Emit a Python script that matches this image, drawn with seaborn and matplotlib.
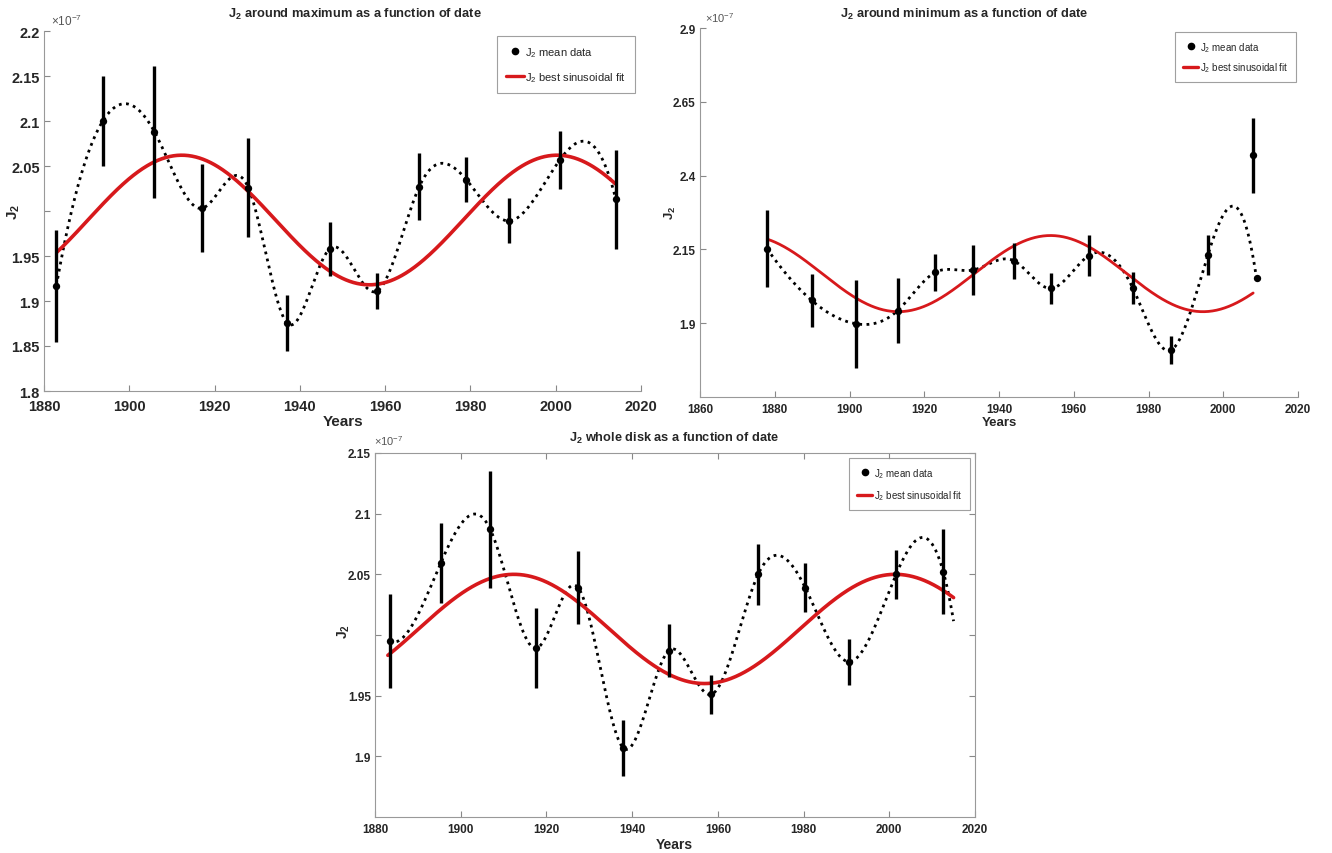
import numpy as np
import pandas as pd
import matplotlib
matplotlib.use("Agg")
import matplotlib.pyplot as plt
import seaborn as sns
from matplotlib.lines import Line2D

# ---------------- data (values in units of 1e-7) ----------------
max_years = [1882.9, 1893.8, 1905.9, 1917.0, 1927.9, 1936.9, 1947.0, 1958.1, 1968.0, 1979.0, 1989.1, 2001.0, 2014.1]
max_j2 = [1.917, 2.100, 2.088, 2.003, 2.026, 1.876, 1.958, 1.911, 2.027, 2.035, 1.989, 2.057, 2.013]
max_err = [0.062, 0.050, 0.073, 0.049, 0.055, 0.031, 0.030, 0.020, 0.037, 0.025, 0.025, 0.032, 0.055]

min_years = [1877.9, 1889.9, 1901.8, 1912.9, 1922.9, 1933.0, 1943.9, 1953.8, 1964.0, 1975.8, 1986.0, 1995.9, 2007.9, 2008.9]
min_j2 = [2.153, 1.977, 1.898, 1.943, 2.072, 2.080, 2.112, 2.018, 2.129, 2.019, 1.809, 2.132, 2.469, 2.052]
min_err = [0.130, 0.090, 0.150, 0.110, 0.062, 0.084, 0.061, 0.053, 0.070, 0.053, 0.047, 0.068, 0.127, np.nan]
min_on_curve = [1, 1, 1, 1, 1, 1, 1, 1, 1, 1, 1, 1, 0, 1]

whole_years = [1883.4, 1895.3, 1906.9, 1917.5, 1927.4, 1937.9, 1948.5, 1958.4, 1969.4, 1980.4, 1990.6, 2001.6, 2012.6]
whole_j2 = [1.995, 2.059, 2.087, 1.989, 2.039, 1.907, 1.987, 1.951, 2.050, 2.039, 1.978, 2.050, 2.052]
whole_err = [0.039, 0.033, 0.048, 0.033, 0.030, 0.023, 0.022, 0.016, 0.025, 0.020, 0.019, 0.020, 0.035]

# best sinusoidal fit parameters: offset, amplitude, period, year of peak, start, end
max_fit = dict(offset=1.990, amp=0.072, period=88.0, peak=1912.3, start=1883.0, end=2014.0)
min_fit = dict(offset=2.068, amp=0.129, period=81.5, peak=1953.8, start=1878.0, end=2008.0)
whole_fit = dict(offset=2.005, amp=0.045, period=89.0, peak=1912.4, start=1883.0, end=2015.0)

x_ticks_a = [1880, 1900, 1920, 1940, 1960, 1980, 2000, 2020]
x_ticks_b = [1860, 1880, 1900, 1920, 1940, 1960, 1980, 2000, 2020]
max_yticks = [1.8, 1.85, 1.9, 1.95, 2.0, 2.05, 2.1, 2.15, 2.2]
max_ylabels = ["1.8", "1.85", "1.9", "1.95", "", "2.05", "2.1", "2.15", "2.2"]
min_yticks = [1.9, 2.15, 2.4, 2.65, 2.9]
min_ylabels = ["1.9", "2.15", "2.4", "2.65", "2.9"]
whole_yticks = [1.9, 1.95, 2.0, 2.05, 2.1, 2.15]
whole_ylabels = ["1.9", "1.95", "", "2.05", "2.1", "2.15"]

titles = ["J$_2$ around maximum as a function of date",
          "J$_2$ around minimum as a function of date",
          "J$_2$ whole disk as a function of date"]
legend_labels = ["J$_2$ mean data", "J$_2$ best sinusoidal fit"]


def spline(x, y, t):
    """not-a-knot cubic spline through (x, y) evaluated at t"""
    x = np.asarray(x, float); y = np.asarray(y, float); t = np.asarray(t, float)
    n = len(x); h = np.diff(x)
    A = np.zeros((n, n)); b = np.zeros(n)
    A[0, 0], A[0, 1], A[0, 2] = h[1], -(h[0] + h[1]), h[0]
    A[-1, -3], A[-1, -2], A[-1, -1] = h[-1], -(h[-2] + h[-1]), h[-2]
    for i in range(1, n - 1):
        A[i, i - 1] = h[i - 1]; A[i, i] = 2 * (h[i - 1] + h[i]); A[i, i + 1] = h[i]
        b[i] = 6 * ((y[i + 1] - y[i]) / h[i] - (y[i] - y[i - 1]) / h[i - 1])
    M = np.linalg.solve(A, b)
    idx = np.clip(np.searchsorted(x, t) - 1, 0, n - 2)
    x0, x1, hh = x[idx], x[idx + 1], h[idx]
    return (M[idx] * (x1 - t) ** 3 / (6 * hh) + M[idx + 1] * (t - x0) ** 3 / (6 * hh)
            + (y[idx] / hh - M[idx] * hh / 6) * (x1 - t) + (y[idx + 1] / hh - M[idx + 1] * hh / 6) * (t - x0))


sns.set_theme(style="white")
plt.rcParams["font.family"] = ["Liberation Sans", "DejaVu Sans"]
plt.rcParams["mathtext.default"] = "regular"

W, H = 1332, 854
fig = plt.figure(figsize=(W / 100, H / 100), dpi=100)


def rect(l, t, r, b):
    return [l / W, 1 - b / H, (r - l) / W, (b - t) / H]


def panel(box, years, j2, err, fit, on_curve, curve_end, xlim, xticks, ylim, yticks, ylabels,
          fs, xpad, red_lw, full_box, leg_anchor, leg_fs, leg_space):
    ax = fig.add_axes(rect(*box))
    years = np.asarray(years, float); j2 = np.asarray(j2, float); err = np.asarray(err, float)
    on = np.asarray(on_curve, bool)
    # dotted smooth curve through the mean data
    t = np.linspace(years[on][0], curve_end, 600)
    dotted = pd.DataFrame({"year": t, "j2": spline(years[on], j2[on], t)})
    sns.lineplot(data=dotted, x="year", y="j2", ax=ax, color="black", lw=2.0,
                 linestyle=(0, (1, 1.6)), sort=False, estimator=None, zorder=2)
    # red best sinusoidal fit
    tf = np.linspace(fit["start"], fit["end"], 600)
    fitdf = pd.DataFrame({"year": tf, "j2": fit["offset"] + fit["amp"] *
                          np.cos(2 * np.pi * (tf - fit["peak"]) / fit["period"])})
    sns.lineplot(data=fitdf, x="year", y="j2", ax=ax, color="#d7191c", lw=red_lw,
                 sort=False, estimator=None, zorder=3)
    # error bars and points
    ok = ~np.isnan(err)
    ax.errorbar(years[ok], j2[ok], yerr=err[ok], fmt="none", ecolor="black", elinewidth=2.4,
                capsize=0, zorder=4)
    pts = pd.DataFrame({"year": years, "j2": j2})
    sns.scatterplot(data=pts, x="year", y="j2", ax=ax, color="black", s=28, edgecolor="black",
                    linewidth=0, zorder=5)
    ax.set_xlim(*xlim); ax.set_ylim(*ylim)
    ax.set_xticks(xticks); ax.set_xticklabels([str(v) for v in xticks])
    ax.set_yticks(yticks); ax.set_yticklabels(ylabels)
    ax.set_xlabel(""); ax.set_ylabel("")
    for lab in ax.get_xticklabels() + ax.get_yticklabels():
        lab.set_fontweight("bold"); lab.set_fontsize(fs)
    ax.tick_params(direction="in", length=4, width=0.8, color="#888888", pad=3,
                   top=full_box, right=full_box, bottom=True, left=True)
    ax.tick_params(axis="x", pad=xpad)
    for s in ["left", "bottom", "top", "right"]:
        ax.spines[s].set_color("#999999"); ax.spines[s].set_linewidth(0.8)
        ax.spines[s].set_visible(full_box or s in ("left", "bottom"))
    handles = [Line2D([], [], marker="o", color="black", ls="none", markersize=4.5),
               Line2D([], [], color="#d7191c", lw=2.4)]
    leg = ax.legend(handles, legend_labels, loc="upper right", bbox_to_anchor=leg_anchor,
                    fontsize=leg_fs, frameon=True, fancybox=False, handlelength=1.6,
                    handletextpad=0.15, labelspacing=leg_space, borderpad=0.8,
                    borderaxespad=0.0)
    leg.get_frame().set_edgecolor("#888888"); leg.get_frame().set_linewidth(0.8)
    return ax


# panel positions in pixels: left, top, right, bottom
ax1 = panel((44, 32, 641, 392), max_years, max_j2, max_err, max_fit, [1] * len(max_years),
            max_years[-1], (1880, 2020), x_ticks_a, (1.8, 2.2), max_yticks, max_ylabels,
            10.5, 6, 2.6, False, (0.99, 0.986), 8.0, 1.0)
ax2 = panel((700, 29, 1298, 398), min_years, min_j2, min_err, min_fit, min_on_curve,
            min_years[-1], (1860, 2020), x_ticks_b, (1.65, 2.9), min_yticks, min_ylabels,
            8.5, 4, 2.0, False, (0.997, 0.989), 7.0, 0.7)
ax3 = panel((375, 454, 975, 818), whole_years, whole_j2, whole_err, whole_fit,
            [1] * len(whole_years), 2015.0, (1880, 2020), x_ticks_a, (1.85, 2.15),
            whole_yticks, whole_ylabels, 8.5, 4, 2.6, True, (0.992, 0.986), 7.0, 0.9)


def ftext(x, y, s, **kw):
    fig.text(x / W, 1 - y / H, s, **kw)


ftext(355, 14, titles[0], ha="center", va="center", fontsize=9.3, fontweight="bold")
ftext(964, 14, titles[1], ha="center", va="center", fontsize=9.2, fontweight="bold")
ftext(674, 438, titles[2], ha="center", va="center", fontsize=9.2, fontweight="bold")
ftext(343, 422, "Years", ha="center", va="center", fontsize=11, fontweight="bold")
ftext(999, 423, "Years", ha="center", va="center", fontsize=9.5, fontweight="bold")
ftext(674, 845, "Years", ha="center", va="center", fontsize=10, fontweight="bold")
ftext(14, 212, "J$_2$", ha="center", va="center", fontsize=11, fontweight="bold", rotation=90)
ftext(670, 213, "J$_2$", ha="center", va="center", fontsize=9.5, fontweight="bold", rotation=90)
ftext(344, 632, "J$_2$", ha="center", va="center", fontsize=10, fontweight="bold", rotation=90)
ftext(51, 21, r"$\times$10$^{-7}$", ha="left", va="center", fontsize=8.5, color="#555555")
ftext(705, 18, r"$\times$10$^{-7}$", ha="left", va="center", fontsize=8, color="#555555")
ftext(374, 441, r"$\times$10$^{-7}$", ha="left", va="center", fontsize=8, color="#555555")

fig.savefig("out.png", dpi=100, facecolor="white")
